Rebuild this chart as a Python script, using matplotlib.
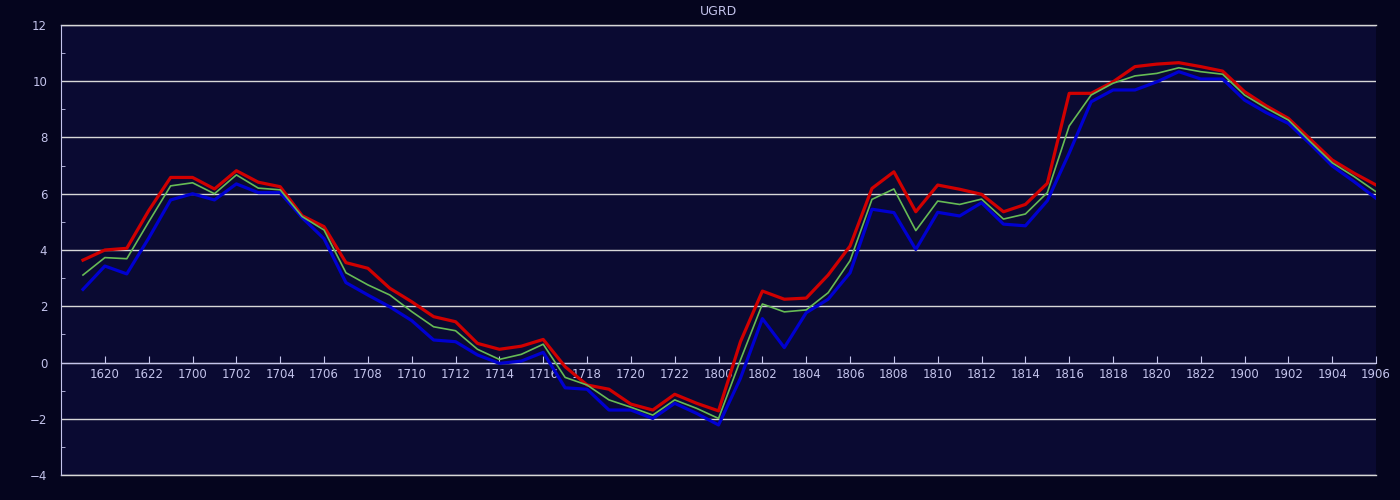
import matplotlib
matplotlib.use("Agg")
import matplotlib.pyplot as plt
from matplotlib.ticker import MultipleLocator

# categories (x axis) : 1619-1623, 1700-1723, 1800-1823, 1900-1906
cats = ([str(y) for y in range(1619, 1624)] + [str(y) for y in range(1700, 1724)]
        + [str(y) for y in range(1800, 1824)] + [str(y) for y in range(1900, 1907)])

red = [3.64, 4.0, 4.06, 5.4, 6.58, 6.58, 6.17, 6.82, 6.41, 6.25,
       5.22, 4.83, 3.55, 3.35, 2.64, 2.16, 1.63, 1.45, 0.68, 0.47,
       0.58, 0.82, -0.15, -0.8, -0.95, -1.48, -1.69, -1.13, -1.45, -1.72,
       0.74, 2.54, 2.25, 2.29, 3.11, 4.14, 6.19, 6.78, 5.36, 6.31,
       6.16, 5.98, 5.36, 5.62, 6.37, 9.57, 9.57, 9.98, 10.52, 10.61,
       10.66, 10.52, 10.36, 9.63, 9.12, 8.68, 7.94, 7.2, 6.73, 6.31]
green = [3.11, 3.73, 3.69, 5.0, 6.28, 6.39, 6.0, 6.67, 6.2, 6.14,
         5.19, 4.71, 3.19, 2.76, 2.4, 1.81, 1.27, 1.13, 0.47, 0.11,
         0.29, 0.65, -0.53, -0.8, -1.33, -1.59, -1.87, -1.33, -1.63, -1.99,
         0.09, 2.08, 1.8, 1.87, 2.48, 3.62, 5.8, 6.17, 4.69, 5.74,
         5.62, 5.81, 5.1, 5.28, 6.04, 8.41, 9.51, 9.93, 10.19, 10.28,
         10.48, 10.34, 10.25, 9.51, 9.04, 8.62, 7.85, 7.1, 6.61, 6.07]
blue = [2.6, 3.43, 3.15, 4.42, 5.78, 6.0, 5.78, 6.35, 6.04, 6.04,
        5.15, 4.4, 2.84, 2.4, 1.98, 1.49, 0.8, 0.74, 0.27, -0.03,
        0.05, 0.36, -0.9, -0.95, -1.69, -1.69, -1.99, -1.45, -1.81, -2.22,
        -0.56, 1.56, 0.53, 1.77, 2.25, 3.19, 5.45, 5.33, 4.02, 5.34,
        5.21, 5.68, 4.92, 4.86, 5.75, 7.45, 9.27, 9.69, 9.69, 9.98,
        10.34, 10.08, 10.08, 9.33, 8.88, 8.5, 7.77, 6.99, 6.43, 5.84]

fg = '#c4c4ec'
fig = plt.figure(figsize=(14, 5), dpi=100, facecolor='#05051e')
ax = fig.add_axes([0.0436, 0.05, 0.9393, 0.90])
ax.set_facecolor('#0a0a32')

x = list(range(len(cats)))
ax.plot(x, red, color='#d00000', lw=2.3, zorder=3)
ax.plot(x, blue, color='#0000d0', lw=2.3, zorder=3)
ax.plot(x, green, color='#66bb55', lw=1.2, zorder=4)

ax.set_xlim(-1, len(cats) - 1)
ax.set_ylim(-4, 12)

# y axis
ax.yaxis.set_major_locator(MultipleLocator(2))
ax.yaxis.set_minor_locator(MultipleLocator(1))
ax.grid(axis='y', which='major', color='#d8d8d8', lw=1.0, zorder=1)
# top / bottom grid lines sit on the axes edges
for yv in [-4, 12]:
    ax.axhline(yv, color='#d8d8d8', lw=1.0, clip_on=False, zorder=1)
ax.tick_params(axis='y', which='major', length=0, colors=fg, labelsize=8.5, pad=10)
ax.tick_params(axis='y', which='minor', length=3, direction='in', color=fg)

# x axis sits on zero
ax.set_xticks(x[1::2])
ax.set_xticklabels(cats[1::2])
ax.spines['bottom'].set_position(('data', 0))
ax.tick_params(axis='x', length=5, direction='in', colors=fg, labelsize=8.5, pad=4)

for s in ['top', 'right']:
    ax.spines[s].set_visible(False)
ax.spines['left'].set_color(fg)
ax.spines['bottom'].set_color(fg)

ax.set_title('UGRD', color=fg, fontsize=9, pad=7)

fig.savefig('out.png', facecolor=fig.get_facecolor())
